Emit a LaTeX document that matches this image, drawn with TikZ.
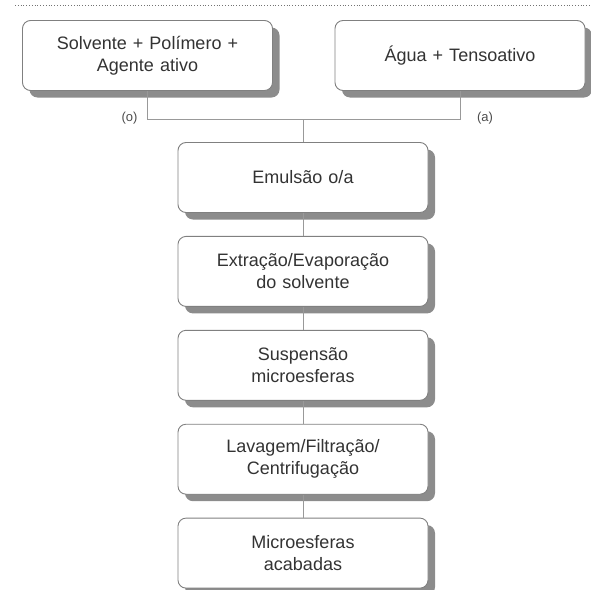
\documentclass[tikz,border=0pt]{standalone}
\usepackage{fontspec}
\setmainfont{Liberation Sans}
\usetikzlibrary{positioning,shadows}

\begin{document}
\begin{tikzpicture}[x=1pt,y=1pt]
    \tikzstyle{stage}=[rectangle, rounded corners=8pt, draw=black!50, line width=0.9pt, fill=white,
      minimum width=250pt, minimum height=70pt, text width=240pt, align=center,
      text=black!80, font=\fontsize{18}{22}\selectfont, node distance=23pt,
      drop shadow={shadow xshift=7pt, shadow yshift=-7pt, fill=black!45, opacity=1}]
    \tikzstyle{connect}=[draw=black!40, line width=0.9pt]
    \tikzstyle{phase}=[text=black!70, font=\fontsize{13}{15}\selectfont]
    \useasboundingbox (0,0) rectangle (591,-589);
    \draw[black!55, dotted, line width=0.8pt] (15,-5) -- (591,-5);
    \node[stage] (sol) at (147.5,-55.5) {Solvente + Polímero +\\Agente ativo};
    \node[stage] (agua) at (460,-55.5) {Água + Tensoativo};
    \node[stage] (emul) at (303,-177.5) {Emulsão o/a};
    \node[stage] (evap) [below=of emul] {Extração/Evaporação\\do solvente};
    \node[stage] (susp) [below=of evap] {Suspensão\\microesferas};
    \node[stage] (lav) [below=of susp] {Lavagem/Filtração/\\Centrifugação};
    \node[stage] (micro) [below=of lav] {Microesferas\\acabadas};
    \coordinate (junc) at ([yshift=23pt]emul.north);
    \draw[connect] (sol.south) |- (junc) -| (agua.south);
    \draw[connect] (junc) -- (emul.north);
    \path (emul) edge [connect] (evap)
    (evap) edge [connect] (susp)
    (susp) edge [connect] (lav)
    (lav) edge [connect] (micro);
    \node[phase] (o) at ([shift={(-18pt,-27pt)}]sol.south) {(o)};
    \node[phase] (a) at ([shift={(25pt,-27pt)}]agua.south) {(a)};
  \end{tikzpicture}
\end{document}
